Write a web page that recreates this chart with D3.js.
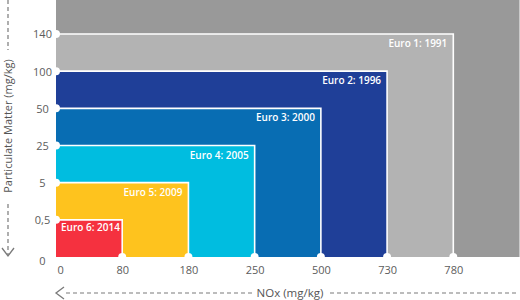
<!DOCTYPE html>
<html>
<head>
<meta charset="utf-8">
<script src="https://cdn.jsdelivr.net/npm/d3@7"></script>
<style>
  html, body { margin: 0; padding: 0; background: #fff; }
  svg { display: block; font-family: "Open Sans", "Noto Sans", sans-serif; }
</style>
</head>
<body>
<svg id="chart" width="520" height="300"></svg>
<script>
// ---- data ----
const noxTicks = ["0", "80", "180", "250", "500", "730", "780"];
const pmTicks = ["0", "0,5", "5", "25", "50", "100", "140"];
const standards = ["Euro 1: 1991", "Euro 2: 1996", "Euro 3: 2000", "Euro 4: 2005", "Euro 5: 2009", "Euro 6: 2014"];
const noxLimits = ["780", "730", "500", "250", "180", "80"];
const pmLimits = ["140", "100", "50", "25", "5", "0,5"];
const colors = ["#b3b3b3", "#1f3f98", "#086db3", "#00bde0", "#fec31e", "#f5313f"];

const svg = d3.select("#chart");
const left = 56, bottom = 257, topY = 34;

const x = d3.scalePoint().domain(noxTicks).range([left, 453.3]);
const y = d3.scalePoint().domain(pmTicks).range([bottom, topY]);
const xStep = x.step();

// background (beyond the largest limits)
svg.append("rect")
  .attr("x", left).attr("y", 0)
  .attr("width", x("780") + xStep - left)
  .attr("height", bottom)
  .attr("fill", "#999999");

const data = standards.map((s, i) => ({ name: s, nox: noxLimits[i], pm: pmLimits[i], color: colors[i] }));

const g = svg.append("g");
data.forEach((d, i) => {
  g.append("rect")
    .attr("x", left).attr("y", y(d.pm))
    .attr("width", x(d.nox) - left)
    .attr("height", bottom - y(d.pm))
    .attr("fill", d.color);
  g.append("path")
    .attr("d", `M${left},${y(d.pm)}H${x(d.nox)}V${bottom}`)
    .attr("fill", "none").attr("stroke", "#fff").attr("stroke-width", 1.6);
  const last = i === data.length - 1;
  g.append("text")
    .attr("x", last ? left + 5 : x(d.nox) - 6)
    .attr("y", y(d.pm) + (last ? 8 : 9.5))
    .attr("dy", "0.35em")
    .attr("text-anchor", last ? "start" : "end")
    .attr("fill", "#fff")
    .attr("font-size", 10)
    .attr("font-weight", 600)
    .text(d.name);
});

// corner dots
svg.append("g").selectAll("circle.l")
  .data(pmTicks.slice(1)).join("circle")
  .attr("cx", left).attr("cy", d => y(d)).attr("r", 4).attr("fill", "#fff");
svg.append("g").selectAll("circle.b")
  .data(noxTicks.slice(1)).join("circle")
  .attr("cx", d => x(d)).attr("cy", bottom).attr("r", 4).attr("fill", "#fff");

// axes
const yAxis = svg.append("g")
  .attr("transform", `translate(${left},0)`)
  .call(d3.axisLeft(y).tickSize(0).tickPadding(0));
yAxis.select(".domain").remove();
yAxis.selectAll("text")
  .attr("x", -13.5).attr("text-anchor", "middle")
  .attr("font-size", 11).attr("font-family", "Open Sans, sans-serif").attr("fill", "#5c5c5c")
  .attr("dy", d => d === "0" ? "0.65em" : "0.35em");

const xAxis = svg.append("g")
  .attr("transform", `translate(0,${bottom})`)
  .call(d3.axisBottom(x).tickSize(0).tickPadding(9));
xAxis.select(".domain").remove();
xAxis.selectAll("text")
  .attr("font-size", 11).attr("font-family", "Open Sans, sans-serif").attr("fill", "#5c5c5c")
  .attr("text-anchor", d => d === "0" ? "start" : "middle")
  .attr("x", d => d === "0" ? 1 : 0);

// axis titles with dashed arrows
const grey = "#7a7a7a";
svg.append("text")
  .attr("x", 290).attr("y", 293).attr("dy", "0.35em")
  .attr("text-anchor", "middle").attr("font-size", 11.5).attr("fill", "#555")
  .text("NOx (mg/kg)");
svg.append("line").attr("x1", 66).attr("x2", 252).attr("y1", 293).attr("y2", 293)
  .attr("stroke", grey).attr("stroke-width", 1.2).attr("stroke-dasharray", "4,3");
svg.append("line").attr("x1", 330).attr("x2", 518).attr("y1", 293).attr("y2", 293)
  .attr("stroke", grey).attr("stroke-width", 1.2).attr("stroke-dasharray", "4,3");
svg.append("path").attr("d", "M64,287L56,293L64,299")
  .attr("fill", "none").attr("stroke", grey).attr("stroke-width", 1.3);

svg.append("text")
  .attr("transform", "translate(8,126) rotate(-90)")
  .attr("dy", "0.35em")
  .attr("text-anchor", "middle").attr("font-size", 11).attr("fill", "#555")
  .text("Particulate Matter (mg/kg)");
svg.append("line").attr("x1", 8).attr("x2", 8).attr("y1", 0).attr("y2", 50)
  .attr("stroke", grey).attr("stroke-width", 1.2).attr("stroke-dasharray", "4,3");
svg.append("line").attr("x1", 8).attr("x2", 8).attr("y1", 204).attr("y2", 255)
  .attr("stroke", grey).attr("stroke-width", 1.2).attr("stroke-dasharray", "4,3");
svg.append("path").attr("d", "M2,248L8,256L14,248")
  .attr("fill", "none").attr("stroke", grey).attr("stroke-width", 1.3);
</script>
</body>
</html>
